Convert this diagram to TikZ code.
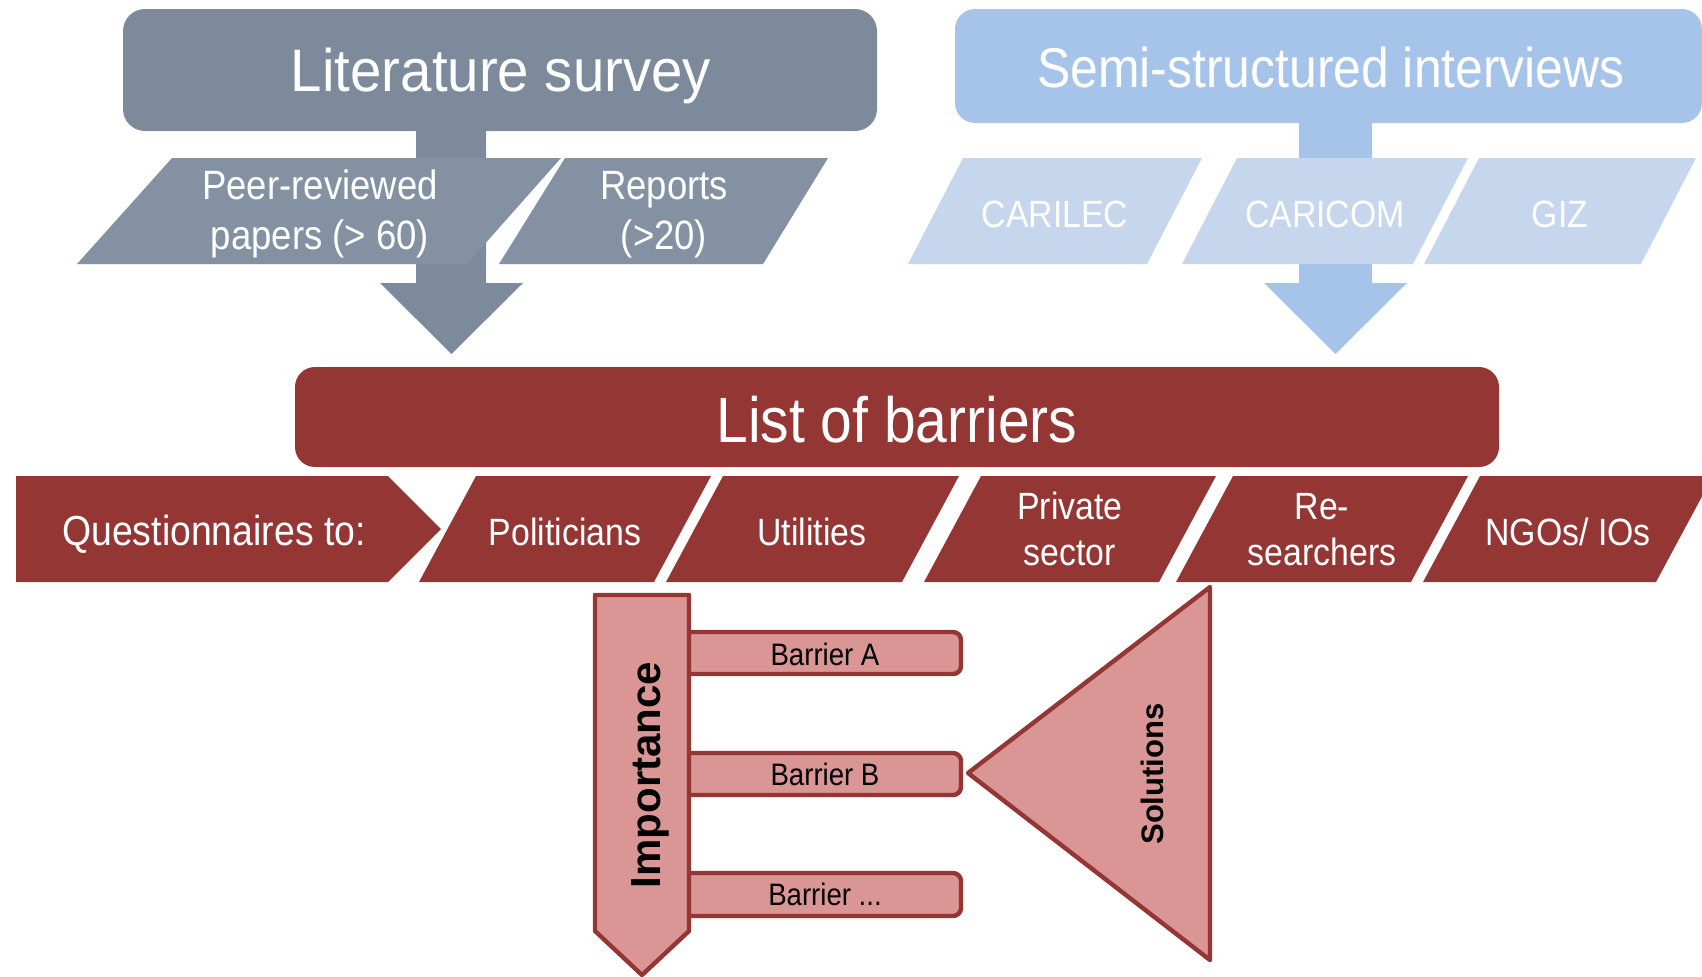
\documentclass[tikz,border=0pt]{standalone}
\usepackage{fontspec}
\setmainfont{Liberation Sans}
\newfontfamily\cnd[FakeStretch=0.89]{Liberation Sans}
\newfontfamily\cndw[FakeStretch=0.94]{Liberation Sans}
\definecolor{litgray}{RGB}{125,138,156}
\definecolor{litpar}{RGB}{131,145,163}
\definecolor{semiblue}{RGB}{166,196,234}
\definecolor{semipar}{RGB}{198,214,236}
\definecolor{darkred}{RGB}{148,54,52}
\definecolor{pinkfill}{RGB}{217,150,148}
\begin{document}
\begin{tikzpicture}[x=0.5pt,y=-0.5pt,
  wtxt/.style={text=white, inner sep=0pt, anchor=base, align=center},
  btxt/.style={text=black, inner sep=0pt, anchor=base},
  pinkshape/.style={fill=pinkfill, draw=darkred, line width=2.2pt, line join=round},
  rowfont/.style={font=\cnd\fontsize{19}{23}\selectfont},
  bluefont/.style={font=\cnd\fontsize{19}{23}\selectfont},
  litfont/.style={font=\cnd\fontsize{20.5}{25}\selectfont},
  barfont/.style={font=\cnd\fontsize{15.5}{18}\selectfont}]
\useasboundingbox (0,0) rectangle (1702,976);

% ---------- Literature survey ----------
\fill[litgray, rounded corners=11pt] (123,9) rectangle (877,131);
\fill[litgray] (416,125) -- (486,125) -- (486,283) -- (523,283) -- (451.5,354) -- (380,283) -- (416,283) -- cycle;
\fill[litpar] (77,264) -- (172,158) -- (561,158) -- (467,264) -- cycle;
\fill[litpar] (499,264) -- (565,158) -- (828,158) -- (763,264) -- cycle;
\node[wtxt, font=\cndw\fontsize{30}{36}\selectfont] (lit) at (501,91) {Literature survey};
\node[wtxt, litfont] (peer) at (320,249) {Peer-reviewed\\papers (> 60)};
\node[wtxt, litfont] (rep) at (664,249) {Reports\\(>20)};

% ---------- Semi-structured interviews ----------
\fill[semiblue, rounded corners=10pt] (955,9) rectangle (1702,123);
\fill[semiblue] (1299,118) -- (1372,118) -- (1372,283) -- (1407,283) -- (1335.5,354) -- (1264,283) -- (1299,283) -- cycle;
\fill[semipar] (908,264) -- (963,158) -- (1202,158) -- (1147,264) -- cycle;
\fill[semipar] (1182,264) -- (1237,158) -- (1468,158) -- (1413,264) -- cycle;
\fill[semipar] (1424,264) -- (1479,158) -- (1696,158) -- (1641,264) -- cycle;
\node[wtxt, font=\cnd\fontsize{28}{34}\selectfont] (semi) at (1331,87) {Semi-structured interviews};
\node[wtxt, bluefont] (carilec) at (1055,227) {CARILEC};
\node[wtxt, bluefont] (caricom) at (1325,227) {CARICOM};
\node[wtxt, bluefont] (giz) at (1560,227) {GIZ};

% ---------- List of barriers ----------
\fill[darkred, rounded corners=10pt] (295,367) rectangle (1499,467);
\node[wtxt, font=\cnd\fontsize{32}{38}\selectfont] (list) at (897,442) {List of barriers};

% ---------- Questionnaires row ----------
\fill[darkred] (16,476) -- (388,476) -- (441,529) -- (388,582) -- (16,582) -- cycle;
\fill[darkred] (419,582) -- (476,476) -- (711,476) -- (654,582) -- cycle;
\fill[darkred] (666,582) -- (723,476) -- (959,476) -- (902,582) -- cycle;
\fill[darkred] (924,582) -- (981,476) -- (1216,476) -- (1159,582) -- cycle;
\fill[darkred] (1176,582) -- (1233,476) -- (1468,476) -- (1411,582) -- cycle;
\fill[darkred] (1423,582) -- (1480,476) -- (1713,476) -- (1656,582) -- cycle;
\node[wtxt, font=\cnd\fontsize{21}{25}\selectfont] (quest) at (214,545) {Questionnaires to:};
\node[wtxt, rowfont] (pol) at (565,545) {Politicians};
\node[wtxt, rowfont] (util) at (812,545) {Utilities};
\node[wtxt, rowfont] (priv) at (1070,565) {Private\\sector};
\node[wtxt, rowfont] (res) at (1322,565) {Re-\\searchers};
\node[wtxt, rowfont] (ngo) at (1568,545) {NGOs/ IOs};

% ---------- Importance / barriers / solutions ----------
\draw[pinkshape] (670,632) [rounded corners=4pt] -- (961,632) -- (961,674) -- (670,674);
\draw[pinkshape] (670,753) [rounded corners=4pt] -- (961,753) -- (961,795) -- (670,795);
\draw[pinkshape] (670,873) [rounded corners=4pt] -- (961,873) -- (961,916) -- (670,916);
\fill[pinkfill] (670,634) rectangle (690,672);
\fill[pinkfill] (670,755) rectangle (690,793);
\fill[pinkfill] (670,875) rectangle (690,914);
\draw[pinkshape] (595,595) -- (689,595) -- (689,931) -- (642,975) -- (595,931) -- cycle;
\draw[pinkshape] (968,773) -- (1210,587) -- (1210,960) -- cycle;
\node[btxt, barfont] (ba) at (825,665) {Barrier A};
\node[btxt, barfont] (bb) at (825,785) {Barrier B};
\node[btxt, barfont] (bc) at (825,905.5) {Barrier ...};
\node[btxt, rotate=90, font=\bfseries\fontsize{21}{25}\selectfont] (imp) at (660,775) {Importance};
\node[btxt, rotate=90, font=\bfseries\fontsize{15.5}{19}\selectfont] (sol) at (1163,774) {Solutions};
\end{tikzpicture}
\end{document}
